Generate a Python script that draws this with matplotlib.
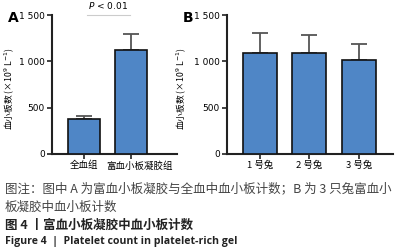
import matplotlib.pyplot as plt
import matplotlib.transforms as mtransforms
import numpy as np

plt.rcParams['font.family'] = ['Noto Sans CJK SC', 'DejaVu Sans']

# panel A
a_groups = ['全血组', '富血小板凝胶组']
a_means = [380, 1123]
a_sd = [25, 169]

# panel B
b_groups = ['1 号兔', '2 号兔', '3 号兔']
b_means = [1094, 1094, 1016]
b_sd = [212, 194, 175]

yticks = [0, 500, 1000, 1500]
ytick_labels = ['0', '500', '1 000', '1 500']
ylab = '血小板数 (×10$^9$ L$^{-1}$)'

bar_color = '#4f86c6'
err_color = '#555555'

fig = plt.figure(figsize=(4.05, 2.52), dpi=100)
axA = fig.add_axes([0.128, 0.389, 0.309, 0.551])
axB = fig.add_axes([0.560, 0.389, 0.410, 0.551])


def style(ax, groups, means, sd, width, xlim, ylab_x):
    x = np.arange(len(groups))
    ax.bar(x, means, width=width, color=bar_color, edgecolor='#111111',
           linewidth=1.2, zorder=3)
    ax.errorbar(x, means, yerr=[np.zeros(len(sd)), sd], fmt='none',
                ecolor=err_color, elinewidth=1.3, capsize=6, capthick=1.3,
                zorder=2)
    ax.set_xlim(*xlim)
    ax.set_ylim(0, 1500)
    ax.set_yticks(yticks)
    ax.set_yticklabels(ytick_labels, fontsize=6.5, family='DejaVu Sans')
    ax.set_xticks(x)
    ax.set_xticklabels(groups, fontsize=6.8)
    for s in ['top', 'right']:
        ax.spines[s].set_visible(False)
    for s in ['left', 'bottom']:
        ax.spines[s].set_linewidth(1.5)
        ax.spines[s].set_color('#222222')
    ax.tick_params(axis='both', length=3.5, width=1.2, pad=1.5, color='#222222')
    ax.set_ylabel(ylab, fontsize=6.3)
    ax.yaxis.set_label_coords(ylab_x, 0.47)


style(axA, a_groups, a_means, a_sd, 0.68, (-0.68, 1.98), -0.29)
style(axB, b_groups, b_means, b_sd, 0.69, (-0.67, 2.69), -0.235)

# second label in A sits a bit right of its tick, as in the original
lbl = axA.get_xticklabels()[1]
lbl.set_transform(lbl.get_transform() +
                  mtransforms.ScaledTranslation(9 / 100, 0, fig.dpi_scale_trans))

fig.text(0.02, 0.93, 'A', fontsize=10, fontweight='bold', family='DejaVu Sans',
         va='center')
fig.text(0.450, 0.93, 'B', fontsize=10, fontweight='bold', family='DejaVu Sans',
         va='center')

# significance mark
axA.plot([0.065, 0.98], [1500, 1500], color='#cccccc', lw=0.8, clip_on=False)
axA.text(0.51, 1540, '$P$ < 0.01', fontsize=6.5, ha='center', va='bottom',
         family='DejaVu Sans')

cap_color = '#444444'
fig.text(0.012, 0.250, '图注：图中 A 为富血小板凝胶与全血中血小板计数；B 为 3 只兔富血小',
         fontsize=9.0, color=cap_color, va='center')
fig.text(0.012, 0.179, '板凝胶中血小板计数', fontsize=9.0, color=cap_color, va='center')
fig.text(0.012, 0.107, '图 4 丨富血小板凝胶中血小板计数', fontsize=9.0,
         color='#222222', fontweight='bold', va='center')
fig.text(0.012, 0.040, 'Figure 4  |  Platelet count in platelet-rich gel', fontsize=7.6,
         color='#222222', fontweight='bold', va='center', family='Open Sans')

fig.savefig('out.png', dpi=100)
